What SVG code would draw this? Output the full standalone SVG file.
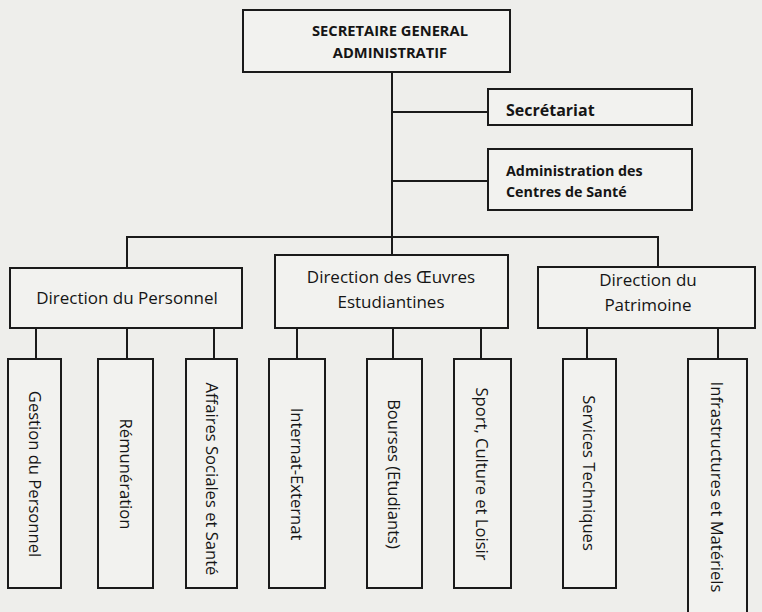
<svg xmlns="http://www.w3.org/2000/svg" width="762" height="612" viewBox="0 0 762 612">
<style>
.bg{fill:#eeeeeb}
.box{fill:#f2f2ef;stroke:#1a1a1a;stroke-width:2}
.ln{fill:none;stroke:#1a1a1a;stroke-width:2}
text{font-family:"Open Sans","Liberation Sans",sans-serif;fill:#151515}
.b{font-weight:bold;font-size:14.7px}
.b2{font-weight:bold;font-size:14.3px}
.b3{font-weight:bold;font-size:16px}
.t{font-size:17px}
.v{font-size:16.6px}
</style>
<rect class="bg" x="0" y="0" width="762" height="612"/>
<g id="connectors">
<path class="ln" d="M392 72V255"/>
<path class="ln" d="M392 112H488"/>
<path class="ln" d="M392 181H488"/>
<path class="ln" d="M127 268V237H658V267"/>
<path class="ln" d="M36 328V359M127 328V359M214 328V359"/>
<path class="ln" d="M297 328V359M393 328V359M481 328V359"/>
<path class="ln" d="M587 328V359M718 328V359"/>
</g>
<g id="sga"><rect class="box" x="243" y="10" width="267" height="62"/>
<text class="b" text-anchor="middle" x="390" y="36">SECRETAIRE GENERAL</text>
<text class="b" text-anchor="middle" x="390" y="58">ADMINISTRATIF</text></g>
<g id="secretariat"><rect class="box" x="488" y="89" width="204" height="36"/>
<text class="b3" x="506" y="116">Secrétariat</text></g>
<g id="admin-sante"><rect class="box" x="488" y="149" width="204" height="61"/>
<text class="b2" x="506" y="176">Administration des</text>
<text class="b2" x="506" y="197">Centres de Santé</text></g>
<g id="dir-personnel"><rect class="box" x="10" y="268" width="232" height="60"/>
<text class="t" text-anchor="middle" x="127" y="304">Direction du Personnel</text></g>
<g id="dir-oeuvres"><rect class="box" x="275" y="255" width="233" height="73"/>
<text class="t" text-anchor="middle" x="391" y="283">Direction des Œuvres</text>
<text class="t" text-anchor="middle" x="391" y="308">Estudiantines</text></g>
<g id="dir-patrimoine"><rect class="box" x="538" y="267" width="217" height="61"/>
<text class="t" text-anchor="middle" x="648" y="286">Direction du</text>
<text class="t" text-anchor="middle" x="648" y="311">Patrimoine</text></g>
<g id="gestion"><rect class="box" x="8" y="359" width="53" height="229"/>
<text class="v" text-anchor="middle" transform="translate(29 474) rotate(90)">Gestion du Personnel</text></g>
<g id="remuneration"><rect class="box" x="98" y="359" width="55" height="229"/>
<text class="v" text-anchor="middle" transform="translate(120 474) rotate(90)">Rémunération</text></g>
<g id="affaires"><rect class="box" x="186" y="359" width="51" height="229"/>
<text class="v" text-anchor="middle" transform="translate(206 479) rotate(90)">Affaires Sociales et Santé</text></g>
<g id="internat"><rect class="box" x="269" y="359" width="56" height="229"/>
<text class="v" text-anchor="middle" transform="translate(291 474) rotate(90)">Internat-Externat</text></g>
<g id="bourses"><rect class="box" x="367" y="359" width="55" height="229"/>
<text class="v" text-anchor="middle" transform="translate(388 474) rotate(90)">Bourses (Etudiants)</text></g>
<g id="sport"><rect class="box" x="454" y="359" width="57" height="229"/>
<text class="v" text-anchor="middle" transform="translate(476 474) rotate(90)">Sport, Culture et Loisir</text></g>
<g id="services"><rect class="box" x="563" y="359" width="53" height="229"/>
<text class="v" text-anchor="middle" transform="translate(583 473) rotate(90)">Services Techniques</text></g>
<g id="infra"><rect class="box" x="688" y="359" width="59" height="262"/>
<text class="v" text-anchor="middle" transform="translate(711 487) rotate(90)">Infrastructures et Matériels</text></g>
</svg>
